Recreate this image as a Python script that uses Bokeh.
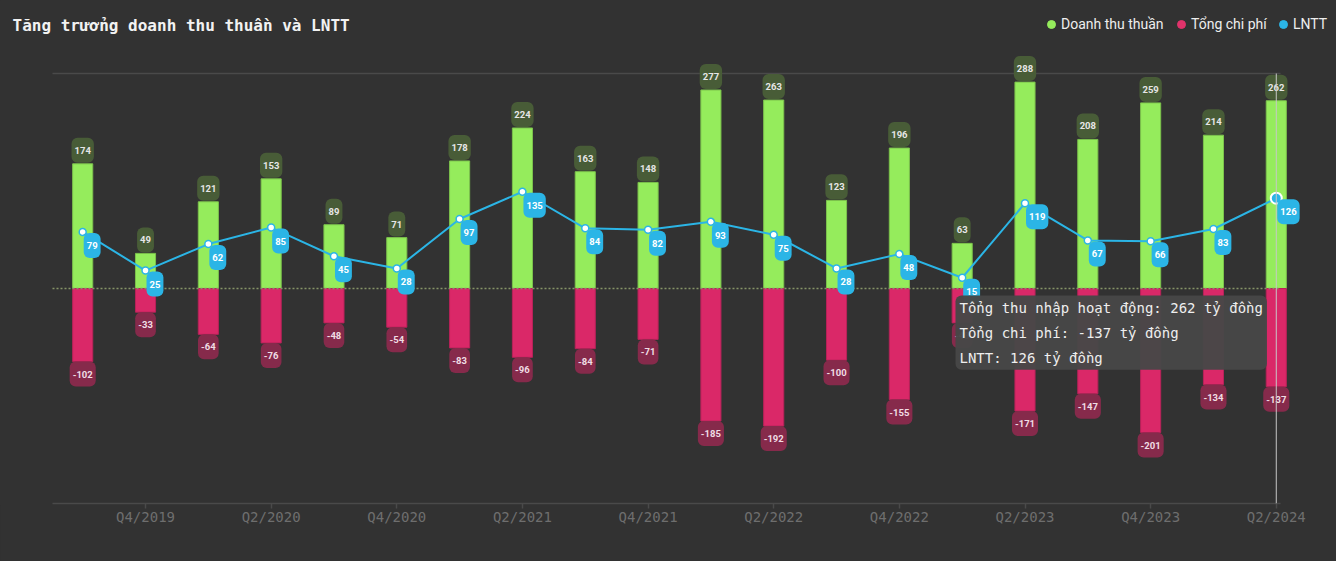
import numpy as np
from bokeh.plotting import figure
from bokeh.models import (ColumnDataSource, FixedTicker, Label, Legend, LegendItem, Range1d)
from bokeh.core.properties import value
from bokeh.embed import file_html
from bokeh.resources import INLINE

quarters = ["Q3/2019", "Q4/2019", "Q1/2020", "Q2/2020", "Q3/2020", "Q4/2020",
            "Q1/2021", "Q2/2021", "Q3/2021", "Q4/2021", "Q1/2022", "Q2/2022",
            "Q3/2022", "Q4/2022", "Q1/2023", "Q2/2023", "Q3/2023", "Q4/2023",
            "Q1/2024", "Q2/2024"]
revenue = [174, 49, 121, 153, 89, 71, 178, 224, 163, 148, 277, 263, 123, 196, 63, 288, 208, 259, 214, 262]
cost = [-102, -33, -64, -76, -48, -54, -83, -96, -84, -71, -185, -192, -100, -155, -48, -171, -147, -201, -134, -137]
profit = [79, 25, 62, 85, 45, 28, 97, 135, 84, 82, 93, 75, 28, 48, 15, 119, 67, 66, 83, 126]

BG = "#323232"
GREEN = "#95ec5c"
RED = "#da2868"
BLUE = "#2bb5e6"

W, H = 1336, 561
FRAME_BOTTOM = 505           # pixel row of the frame bottom
CAT0_PX, CAT_STEP = 82.2, 62.82
ZERO_PX, UNIT_PX = 288.0, 430.0 / 600.0
PLOT_L, PLOT_R, PLOT_TOP, PLOT_BOT = 52, 1280, 300, -300

X0 = -CAT0_PX / CAT_STEP
X1 = X0 + W / CAT_STEP
Y1 = ZERO_PX / UNIT_PX
Y0 = -(FRAME_BOTTOM - ZERO_PX) / UNIT_PX

def px_x(px):
    return X0 + px / CAT_STEP

def px_y(py):
    return Y1 - py / UNIT_PX

xs = list(range(len(quarters)))
src = ColumnDataSource(dict(
    x=xs, rev=revenue, cost=cost, profit=profit,
    rev_t=[str(v) for v in revenue], cost_t=[str(v) for v in cost],
    profit_t=[str(v) for v in profit],
))

p = figure(width=W, height=H, output_backend="svg", toolbar_location=None,
           x_range=Range1d(X0, X1), y_range=Range1d(Y0, Y1),
           min_border_left=0, min_border_right=0, min_border_top=0,
           min_border_bottom=H - FRAME_BOTTOM,
           background_fill_color=BG, border_fill_color=BG)
p.styles = {"background-color": BG}
p.outline_line_color = None
p.yaxis.visible = False
p.xgrid.visible = False
p.ygrid.visible = False

ax = p.xaxis[0]
ax.ticker = FixedTicker(ticks=xs[1::2])
ax.major_label_overrides = {i: quarters[i] for i in xs}
ax.axis_line_color = None
ax.major_tick_line_color = "#4a4a4a"
ax.major_tick_line_width = 1.5
ax.major_tick_in = 2
ax.major_tick_out = 3
ax.minor_tick_line_color = None
ax.major_label_text_font = "DejaVu Sans Mono"
ax.major_label_text_font_size = "14px"
ax.major_label_text_color = "#6e6e6e"
ax.major_label_standoff = 0

# frame lines: top grid line, bottom axis line
p.segment(x0=[px_x(PLOT_L)] * 2, x1=[px_x(PLOT_R)] * 2, y0=[PLOT_TOP, PLOT_BOT],
          y1=[PLOT_TOP, PLOT_BOT], line_color="#4a4a4a", line_width=1.5)

p.vbar(x="x", top="rev", bottom=0, width=0.32, source=src,
       fill_color=GREEN, line_color="#7cc24c", line_width=1)
p.vbar(x="x", top=0, bottom="cost", width=0.32, source=src,
       fill_color=RED, line_color="#b82259", line_width=1)

p.segment(x0=[px_x(PLOT_L)], x1=[px_x(PLOT_R)], y0=[0], y1=[0],
          line_color="#869468", line_width=1.5, line_dash="2 2")

lab_font = value("Roboto")
pad = dict(left=3, right=3, top=9, bottom=9)
p.text(x="x", y="rev", text="rev_t", source=src, anchor="bottom_center", y_offset=-1,
       text_font=lab_font, text_font_style="bold", text_font_size="9.5px",
       text_color="#e6e6e6", background_fill_color="#485c37",
       padding=pad, border_radius=6)
p.text(x="x", y="cost", text="cost_t", source=src, anchor="top_center", y_offset=0,
       text_font=lab_font, text_font_style="bold", text_font_size="9.5px",
       text_color="#f0dde4", background_fill_color="#862a4b",
       padding=pad, border_radius=6)

p.line(x="x", y="profit", source=src, line_color=BLUE, line_width=2)
p.scatter(x="x", y="profit", source=src, size=7, fill_color="white",
          line_color=BLUE, line_width=1.5)
p.scatter(x=[xs[-1]], y=[profit[-1]], size=11, fill_color=BLUE,
          line_color="white", line_width=2)
p.text(x="x", y="profit", text="profit_t", source=src, anchor="top_left",
       x_offset=1, y_offset=1,
       text_font=lab_font, text_font_style="bold", text_font_size="9.5px",
       text_color="white", background_fill_color=BLUE,
       padding=pad, border_radius=6)

# hover crosshair on the last quarter
p.segment(x0=[xs[-1]], x1=[xs[-1]], y0=[PLOT_BOT], y1=[PLOT_TOP],
          line_color="#c8c8c8", line_width=1)

tip = (f"Tổng thu nhập hoạt động: {revenue[-1]} tỷ đồng\n"
       f"Tổng chi phí: {cost[-1]} tỷ đồng\n"
       f"LNTT: {profit[-1]} tỷ đồng")
p.text(x=[px_x(955)], y=[px_y(295)], text=[tip], anchor="top_left",
       text_font=value("DejaVu Sans Mono"), text_font_size="14px",
       text_color="#eeeeee", text_line_height=1.57,
       background_fill_color="#474747", background_fill_alpha=0.97,
       padding=4, border_radius=6)

title = Label(x=px_x(12), y=px_y(25), text="Tăng trưởng doanh thu thuần và LNTT",
              text_font="DejaVu Sans Mono", text_font_style="bold",
              text_font_size="16px", text_color="#f2f2f2",
              text_baseline="middle", text_align="left")
p.add_layout(title)

leg_names = ["Doanh thu thuần", "Tổng chi phí", "LNTT"]
leg_colors = [GREEN, "#e0336b", BLUE]
leg_centers = [1051, 1181, 1283]
for name, col, cx in zip(leg_names, leg_colors, leg_centers):
    # legend proxy: one point placed outside the visible range
    r = p.scatter(x=[X0 - 5], y=[0], size=8, fill_color=col, line_color=col)
    lg = Legend(items=[LegendItem(label=name, renderers=[r])],
                location=(cx - 10, FRAME_BOTTOM - (24 + 10)),
                orientation="horizontal", glyph_width=20, glyph_height=20,
                label_standoff=0, padding=0, margin=0, spacing=0,
                background_fill_alpha=0, border_line_alpha=0,
                label_text_font="Roboto", label_text_font_size="14px",
                label_text_color="#eeeeee")
    p.add_layout(lg)

open("out.html", "w").write(file_html(p, INLINE))
